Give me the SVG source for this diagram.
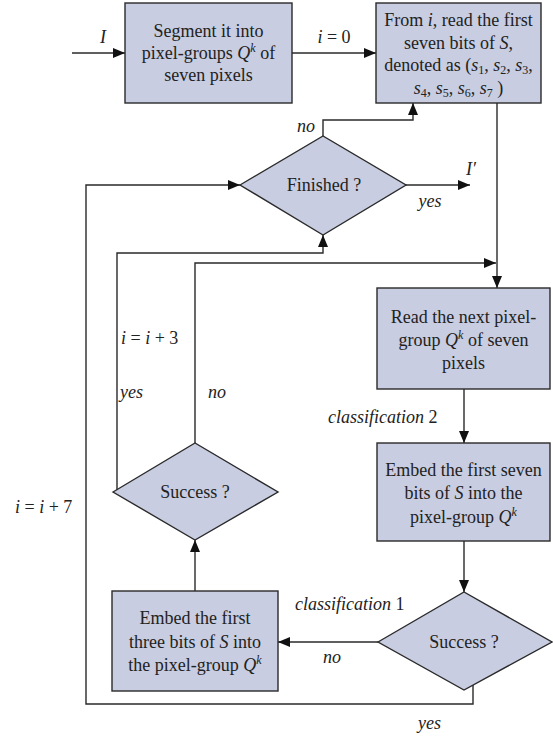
<svg xmlns="http://www.w3.org/2000/svg" width="553" height="736" viewBox="0 0 553 736">
<defs>
<marker id="ah" markerWidth="12" markerHeight="10" refX="12" refY="5" orient="auto" markerUnits="userSpaceOnUse">
<path d="M0,0 L12,5 L0,10 z" fill="#111"/>
</marker>
<style>
.box{fill:#c8cde1;stroke:#2a2a2a;stroke-width:1.4}
.t{font-family:"Liberation Serif","Times New Roman",serif;font-size:18px;fill:#222}
.c{text-anchor:middle}
.i{font-style:italic}
.sup{font-size:12px;font-style:italic}
.sub{font-size:12px}
.ln{fill:none;stroke:#2a2a2a;stroke-width:1.4}
</style>
</defs>
<rect width="553" height="736" fill="#ffffff"/>

<g id="connectors">
<path class="ln" d="M72,53 H125" marker-end="url(#ah)"/>
<path class="ln" d="M292,53 H376" marker-end="url(#ah)"/>
<path class="ln" d="M497,103 V288" marker-end="url(#ah)"/>
<path class="ln" d="M323,136 V120 H413 V103" marker-end="url(#ah)"/>
<path class="ln" d="M406,185 H470" marker-end="url(#ah)"/>
<path class="ln" d="M117,490 V253 H323 V235" marker-end="url(#ah)"/>
<path class="ln" d="M195,443 V263 H496" marker-end="url(#ah)"/>
<path class="ln" d="M464,389 V443" marker-end="url(#ah)"/>
<path class="ln" d="M464,541 V592" marker-end="url(#ah)"/>
<path class="ln" d="M378,642 H278" marker-end="url(#ah)"/>
<path class="ln" d="M195,591 V540" marker-end="url(#ah)"/>
<path class="ln" d="M473,685 V704 H86 V185 H240" marker-end="url(#ah)"/>
</g>

<g id="n1">
<rect class="box" x="125" y="3" width="167" height="100"/>
<text class="t c" x="208.5" y="37">Segment it into</text>
<text class="t c" x="208.5" y="59">pixel-groups <tspan class="i">Q</tspan><tspan class="sup" dy="-7">k</tspan><tspan dy="7"> of</tspan></text>
<text class="t c" x="208.5" y="81">seven pixels</text>
</g>

<g id="n2">
<rect class="box" x="376" y="3" width="165" height="100"/>
<text class="t c" x="458.5" y="26">From <tspan class="i">i</tspan>, read the first</text>
<text class="t c" x="458.5" y="49">seven bits of <tspan class="i">S</tspan>,</text>
<text class="t c" x="458.5" y="71">denoted as (<tspan class="i">s</tspan><tspan class="sub" dy="3">1</tspan><tspan dy="-3">, </tspan><tspan class="i">s</tspan><tspan class="sub" dy="3">2</tspan><tspan dy="-3">, </tspan><tspan class="i">s</tspan><tspan class="sub" dy="3">3</tspan><tspan dy="-3">,</tspan></text>
<text class="t c" x="458.5" y="94"><tspan class="i">s</tspan><tspan class="sub" dy="3">4</tspan><tspan dy="-3">, </tspan><tspan class="i">s</tspan><tspan class="sub" dy="3">5</tspan><tspan dy="-3">, </tspan><tspan class="i">s</tspan><tspan class="sub" dy="3">6</tspan><tspan dy="-3">, </tspan><tspan class="i">s</tspan><tspan class="sub" dy="3">7</tspan><tspan dy="-3"> )</tspan></text>
</g>

<g id="n3">
<polygon class="box" points="240,185 323,136 406,185 323,235"/>
<text class="t c" x="324" y="191">Finished ?</text>
</g>

<g id="n4">
<rect class="box" x="377" y="288" width="173" height="101"/>
<text class="t c" x="463.5" y="323">Read the next pixel-</text>
<text class="t c" x="463.5" y="346">group <tspan class="i">Q</tspan><tspan class="sup" dy="-7">k</tspan><tspan dy="7"> of seven</tspan></text>
<text class="t c" x="463.5" y="369">pixels</text>
</g>

<g id="n5">
<rect class="box" x="377" y="443" width="173" height="98"/>
<text class="t c" x="463.5" y="476">Embed the first seven</text>
<text class="t c" x="463.5" y="499">bits of <tspan class="i">S</tspan> into the</text>
<text class="t c" x="463.5" y="523">pixel-group <tspan class="i">Q</tspan><tspan class="sup" dy="-7">k</tspan></text>
</g>

<g id="n6">
<polygon class="box" points="378,642 464,592 552,642 464,690"/>
<text class="t c" x="464" y="648">Success ?</text>
</g>

<g id="n7">
<rect class="box" x="112" y="591" width="166" height="100"/>
<text class="t c" x="195" y="624">Embed the first</text>
<text class="t c" x="195" y="648">three bits of <tspan class="i">S</tspan> into</text>
<text class="t c" x="195" y="671">the pixel-group <tspan class="i">Q</tspan><tspan class="sup" dy="-7">k</tspan></text>
</g>

<g id="n8">
<polygon class="box" points="113,492 195,443 278,492 195,540"/>
<text class="t c" x="195" y="498">Success ?</text>
</g>

<g id="labels">
<text class="t i c" x="103" y="43">I</text>
<text class="t c" x="334" y="43"><tspan class="i">i</tspan> = 0</text>
<text class="t i" x="297" y="132">no</text>
<text class="t i" x="466" y="175">I′</text>
<text class="t i c" x="430" y="207">yes</text>
<text class="t" x="121" y="344"><tspan class="i">i</tspan> = <tspan class="i">i</tspan> + 3</text>
<text class="t i" x="120" y="398">yes</text>
<text class="t i" x="208" y="398">no</text>
<text class="t" x="15" y="513"><tspan class="i">i</tspan> = <tspan class="i">i</tspan> + 7</text>
<text class="t" x="328" y="423"><tspan class="i">classification</tspan> 2</text>
<text class="t" x="295" y="610"><tspan class="i">classification</tspan> 1</text>
<text class="t i" x="323" y="663">no</text>
<text class="t i" x="418" y="729">yes</text>
</g>
</svg>
